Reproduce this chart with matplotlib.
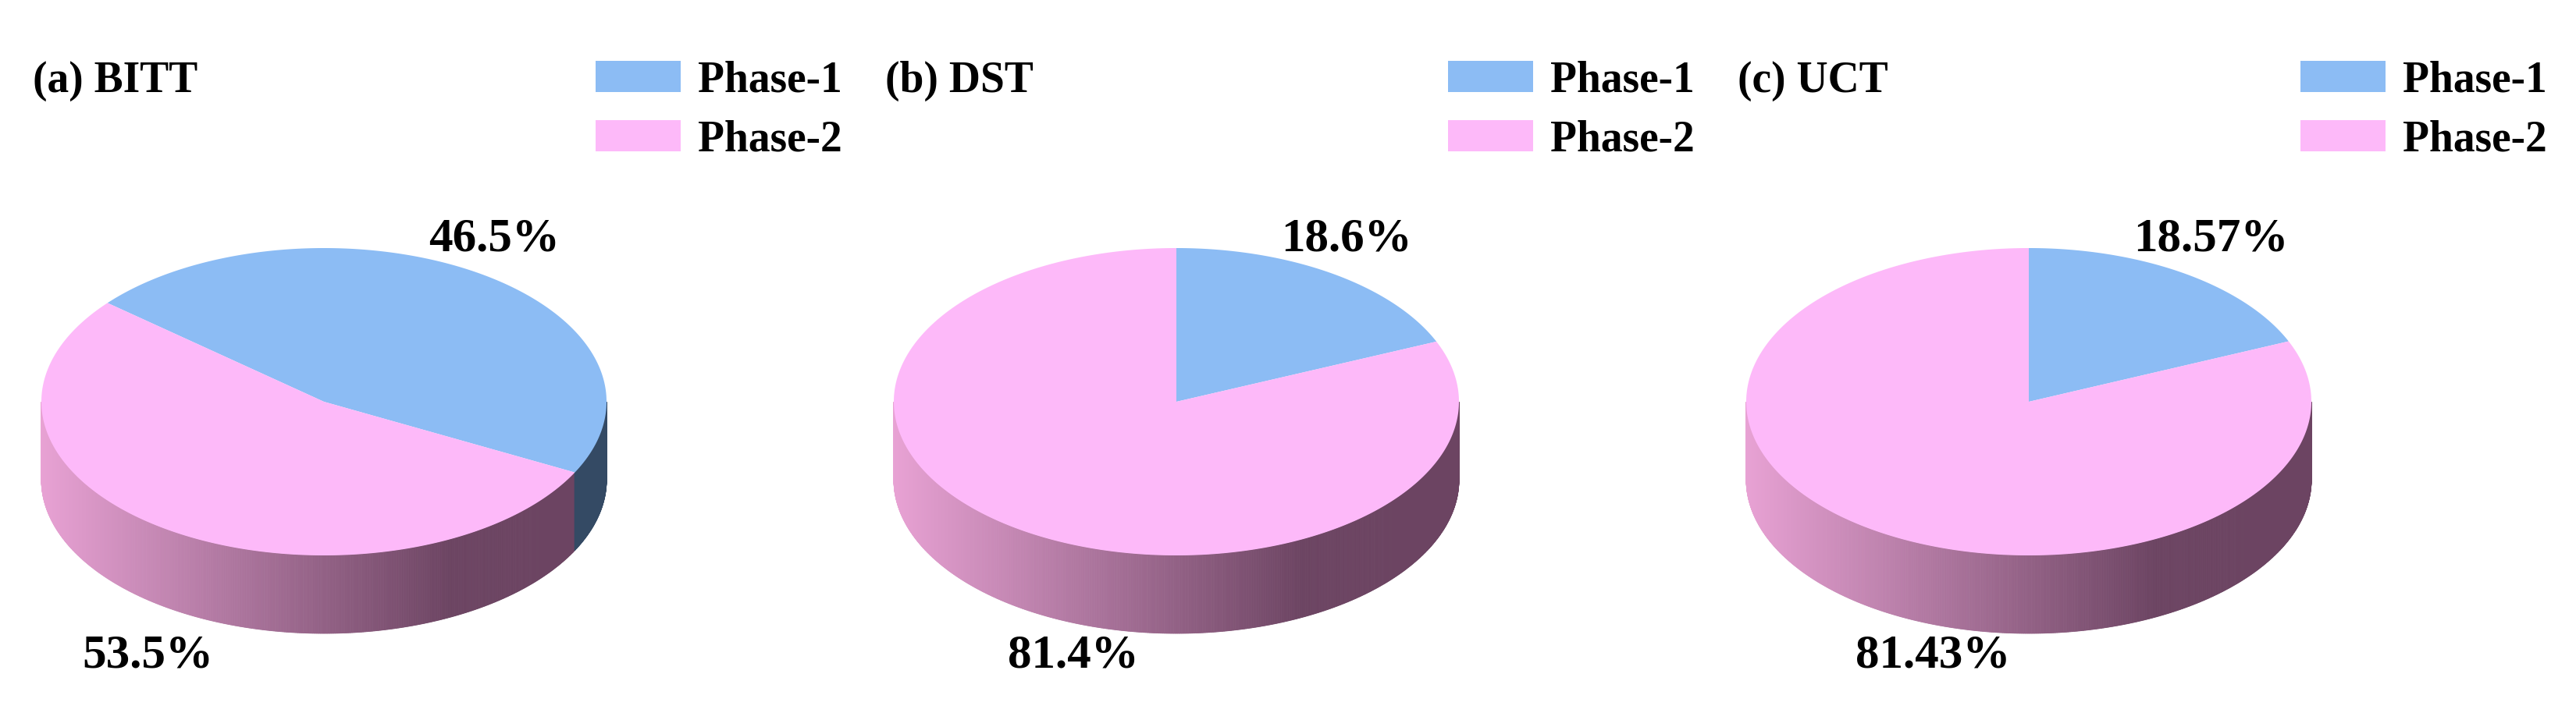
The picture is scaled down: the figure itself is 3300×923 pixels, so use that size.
import numpy as np
import matplotlib
matplotlib.use("Agg")
import matplotlib.pyplot as plt
from matplotlib.patches import Polygon, Rectangle
from matplotlib.colors import to_rgb

titles = ["(a) BITT", "(b) DST", "(c) UCT"]
series_names = ["Phase-1", "Phase-2"]
phase1 = [46.5, 18.6, 18.57]
phase2 = [53.5, 81.4, 81.43]
label1 = ["46.5%", "18.6%", "18.57%"]
label2 = ["53.5%", "81.4%", "81.43%"]

start_angles = [140, 90, 90]
top_colors = ["#8cbcf4", "#fdb9f9"]
side_light = [to_rgb("#5a7aa0"), to_rgb("#e8a2d4")]
side_dark = [to_rgb("#344a64"), to_rgb("#6c4462")]

W, H = 3300, 923
fig = plt.figure(figsize=(W / 100, H / 100), dpi=100)
ax = fig.add_axes([0, 0, 1, 1])
ax.set_xlim(0, W)
ax.set_ylim(H, 0)
ax.axis("off")
font = dict(family="Liberation Serif", weight="bold")

rx, ry, depth, cy = 362, 197, 100, 515
offsets = [0, 1092, 2184]

for k in range(3):
    cx = 415 + offsets[k]
    vals = np.array([phase1[k], phase2[k]])
    frac = vals / vals.sum()
    s = start_angles[k]
    bounds = [s, s - 360 * frac[0], s - 360]

    def slice_of(theta):
        t = (s - theta) % 360
        return 0 if t < 360 * frac[0] else 1

    # side wall strips (front half)
    th = np.linspace(180, 360, 721)
    for a0, a1 in zip(th[:-1], th[1:]):
        mid = 0.5 * (a0 + a1)
        idx = slice_of(mid)
        xm = cx + rx * np.cos(np.radians(mid))
        f = np.clip((xm - (cx - rx)) / (1.45 * rx), 0, 1)
        col = tuple(np.array(side_light[idx]) * (1 - f) + np.array(side_dark[idx]) * f)
        if idx == 0:
            col = side_dark[0]
        pts = []
        for a in (a0, a1):
            pts.append((cx + rx * np.cos(np.radians(a)), cy - ry * np.sin(np.radians(a))))
        for a in (a1, a0):
            pts.append((cx + rx * np.cos(np.radians(a)), cy - ry * np.sin(np.radians(a)) + depth))
        ax.add_patch(Polygon(pts, closed=True, facecolor=col, edgecolor=col, lw=0.6, zorder=1))

    # top slices
    for i in range(2):
        a_start, a_end = bounds[i], bounds[i + 1]
        angs = np.linspace(a_start, a_end, 400)
        pts = [(cx, cy)] + [(cx + rx * np.cos(np.radians(a)), cy - ry * np.sin(np.radians(a))) for a in angs]
        ax.add_patch(Polygon(pts, closed=True, facecolor=top_colors[i], edgecolor="none", zorder=2))

    # labels
    ax.text(42 + offsets[k], 118, titles[k], fontsize=40, ha="left", va="baseline", **font)
    ax.text(549 + offsets[k], 321, label1[k], fontsize=44, ha="left", va="baseline", **font)
    ax.text(105 + offsets[k] + (0 if k == 0 else 94 - (0 if k == 1 else 6)), 856, label2[k],
            fontsize=44, ha="left", va="baseline", **font)

    # legend
    for j in range(2):
        y0 = 78 + 76 * j
        ax.add_patch(Rectangle((763 + offsets[k], y0), 109, 40, facecolor=top_colors[j], edgecolor="none"))
        ax.text(894 + offsets[k], y0 + 40, series_names[j], fontsize=40, ha="left", va="baseline", **font)

fig.savefig("out.png", dpi=100)
